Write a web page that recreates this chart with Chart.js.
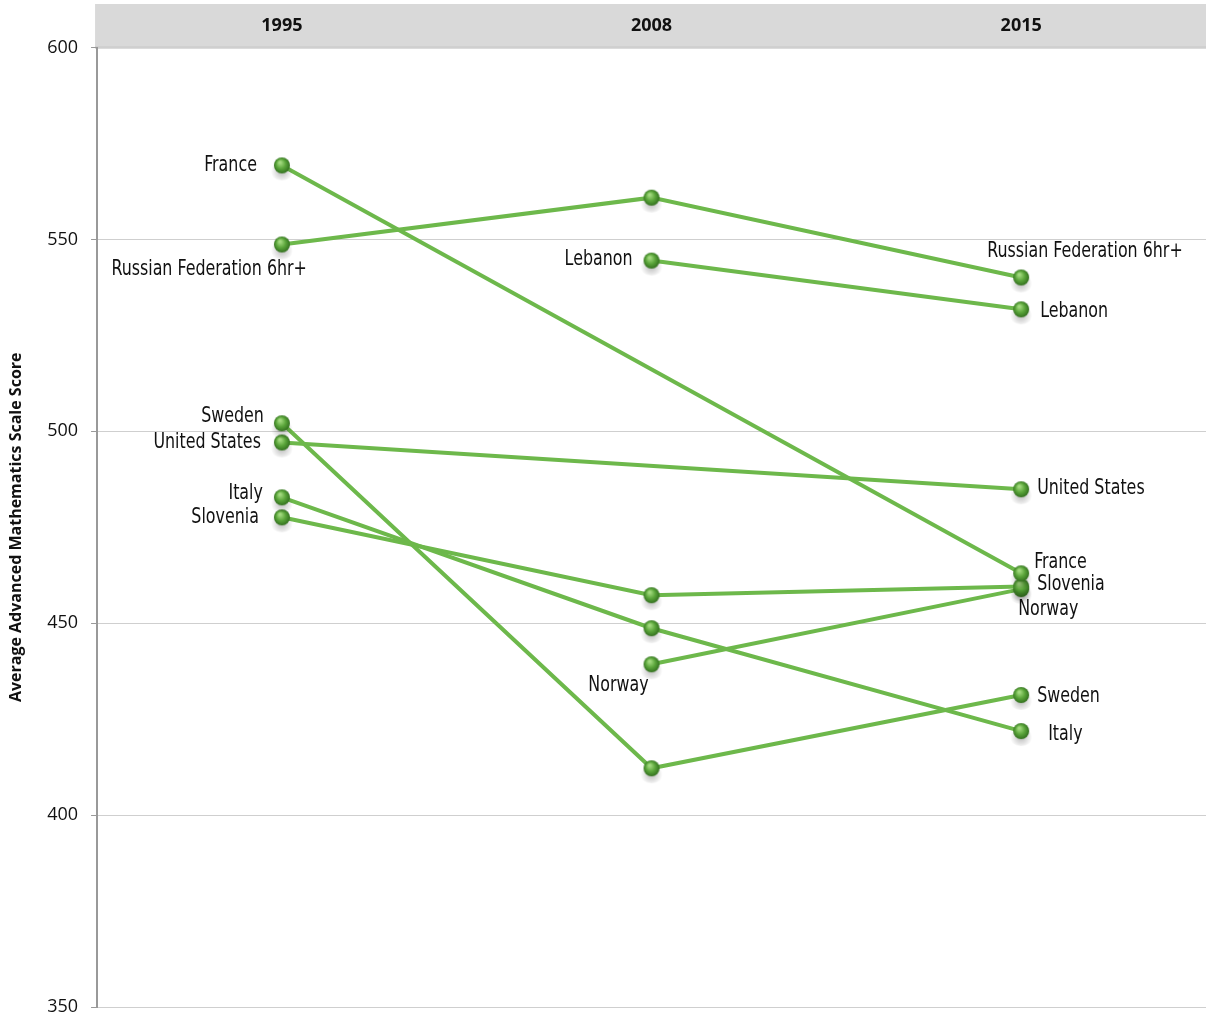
<!DOCTYPE html>
<html>
<head>
<meta charset="utf-8">
<script src="https://cdn.jsdelivr.net/npm/chart.js@4.4.1/dist/chart.umd.min.js"></script>
<style>
  html, body { margin: 0; padding: 0; background: #fff; }
  #chart { display: block; width: 1208px; height: 1021px; }
</style>
</head>
<body>
<canvas id="chart" width="1208" height="1021"></canvas>
<script>
var years = ["1995", "2008", "2015"];

var france = [569.3, null, 463.0];
var russia = [548.7, 560.9, 540.1];
var lebanon = [null, 544.5, 531.8];
var sweden = [502.1, 412.2, 431.3];
var usa = [497.1, null, 484.9];
var italy = [482.8, 448.7, 421.9];
var slovenia = [477.6, 457.3, 459.6];
var norway = [null, 439.3, 458.9];

var yTicks = [350, 400, 450, 500, 550, 600];

// where each point's name goes: [dx, dy, textAlign] or null
var placement = {
  "France": [[-25, 0, "right"], null, [13, -11, "left"]],
  "Russian Federation 6hr+": [[25, 25, "right"], null, [-34, -26, "left"]],
  "Lebanon": [null, [-19, -1, "right"], [19, 2, "left"]],
  "Sweden": [[-18, -7, "right"], null, [16, 2, "left"]],
  "United States": [[-21, 0, "right"], null, [16, -1, "left"]],
  "Italy": [[-19, -4, "right"], null, [27, 3, "left"]],
  "Slovenia": [[-23, 0, "right"], null, [16, -2, "left"]],
  "Norway": [null, [-3, 21, "right"], [-3, 20, "left"]]
};

function sphere() {
  var c = document.createElement("canvas");
  c.width = 28; c.height = 32;
  var g = c.getContext("2d");
  var cx = 14, cy = 16;
  // soft shadow
  var sh = g.createRadialGradient(cx, cy + 6, 1, cx, cy + 6, 11);
  sh.addColorStop(0, "rgba(0,0,0,0.25)");
  sh.addColorStop(1, "rgba(0,0,0,0)");
  g.fillStyle = sh;
  g.beginPath(); g.ellipse(cx, cy + 6, 12, 9, 0, 0, Math.PI * 2); g.fill();
  var gr = g.createRadialGradient(cx - 2, cy - 3, 1, cx, cy, 8.5);
  gr.addColorStop(0, "#a2d97e");
  gr.addColorStop(0.5, "#5aa53a");
  gr.addColorStop(1, "#2f6b1c");
  g.fillStyle = gr;
  g.beginPath(); g.arc(cx, cy, 8, 0, Math.PI * 2); g.fill();
  return c;
}
var ball = sphere();

function ds(name, values) {
  return {
    label: name,
    data: values,
    spanGaps: true,
    borderColor: "#6db84b",
    borderWidth: 4,
    pointStyle: ball,
    pointRadius: 8,
    tension: 0
  };
}

var headerPlugin = {
  id: "header",
  beforeDraw: function (chart) {
    var ctx = chart.ctx, a = chart.chartArea;
    ctx.save();
    ctx.fillStyle = "#d9d9d9";
    ctx.fillRect(a.left - 2, 4, a.right - a.left + 2, a.top - 4);
    ctx.fillStyle = "#c4c4c4";
    ctx.fillRect(a.left - 2, a.top - 1, a.right - a.left + 2, 2);
    ctx.restore();
  }
};

var namePlugin = {
  id: "names",
  afterDatasetsDraw: function (chart) {
    var ctx = chart.ctx;
    var sx = 0.84;
    ctx.save();
    ctx.font = "21px 'DejaVu Sans Condensed', 'Liberation Sans Narrow', sans-serif";
    ctx.fillStyle = "#111";
    ctx.textBaseline = "middle";
    chart.data.datasets.forEach(function (d, i) {
      var meta = chart.getDatasetMeta(i);
      var pl = placement[d.label];
      meta.data.forEach(function (pt, j) {
        if (d.data[j] == null || !pl[j]) return;
        ctx.save();
        ctx.translate(pt.x + pl[j][0], pt.y + pl[j][1]);
        ctx.scale(sx, 1);
        ctx.textAlign = pl[j][2];
        ctx.fillText(d.label, 0, 0);
        ctx.restore();
      });
    });
    ctx.restore();
  }
};

new Chart(document.getElementById("chart").getContext("2d"), {
  type: "line",
  data: {
    labels: years,
    datasets: [
      ds("France", france),
      ds("Russian Federation 6hr+", russia),
      ds("Lebanon", lebanon),
      ds("Sweden", sweden),
      ds("United States", usa),
      ds("Italy", italy),
      ds("Slovenia", slovenia),
      ds("Norway", norway)
    ]
  },
  options: {
    responsive: false,
    animation: false,
    devicePixelRatio: 1,
    layout: { autoPadding: false, padding: { top: 12, right: 2, bottom: 14, left: 7 } },
    plugins: {
      legend: { display: false },
      tooltip: { enabled: false }
    },
    scales: {
      x: {
        type: "category",
        position: "top",
        offset: true,
        grid: { display: false },
        border: { display: false },
        ticks: {
          color: "#111",
          padding: 3,
          font: { family: "'Open Sans', sans-serif", size: 18, weight: "bold" }
        }
      },
      y: {
        min: 350,
        max: 600,
        afterBuildTicks: function (axis) {
          axis.ticks = yTicks.map(function (v) { return { value: v }; });
        },
        afterFit: function (axis) {
          axis.paddingBottom = 0;
        },
        grid: { color: "#cfcfcf", lineWidth: 1, tickLength: 6, tickColor: "#999" },
        border: { color: "#999", width: 2 },
        ticks: {
          color: "#111",
          padding: 13,
          font: { family: "'Open Sans', sans-serif", size: 18 }
        },
        title: {
          display: true,
          text: "Average Advanced Mathematics Scale Score",
          color: "#111",
          padding: { top: 0, bottom: 8 },
          font: { family: "'Open Sans', sans-serif", size: 16, weight: "bold" }
        }
      }
    }
  },
  plugins: [headerPlugin, namePlugin]
});
</script>
</body>
</html>
